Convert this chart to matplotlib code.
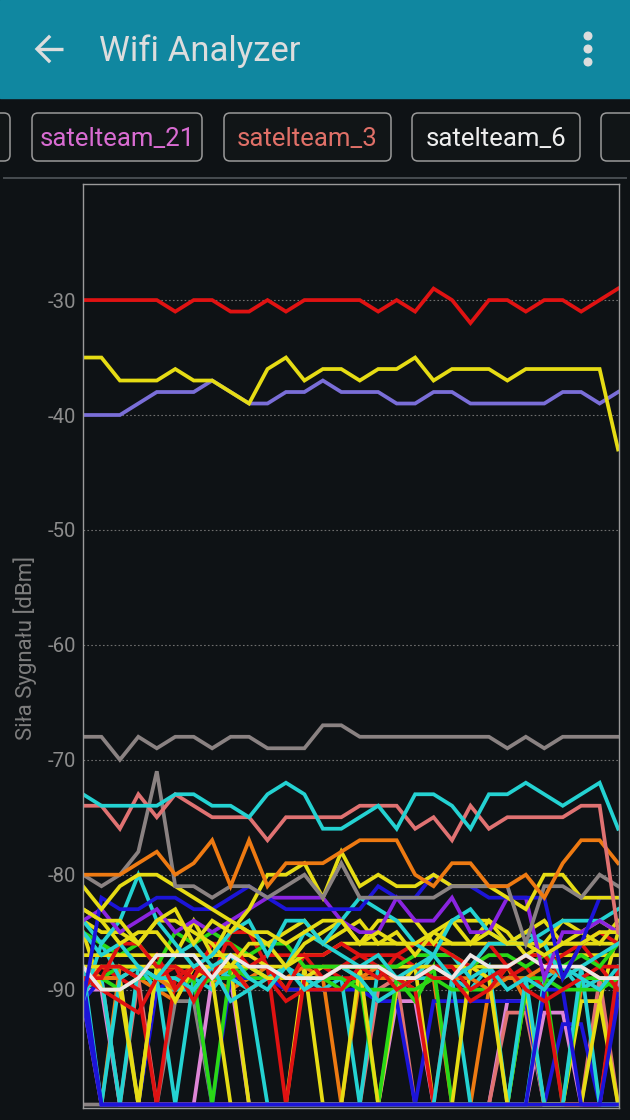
import numpy as np
import matplotlib
matplotlib.use("Agg")
import matplotlib.pyplot as plt
from matplotlib.patches import Rectangle, FancyBboxPatch, Circle

plt.rcParams['font.family'] = ['Roboto', 'DejaVu Sans']

# === DATA ===
scans = np.arange(30)
y_ticks = [-30, -40, -50, -60, -70, -80, -90]
y_label = 'Siła Sygnału [dBm]'
title = 'Wifi Analyzer'
tab_names = ['satelteam_21', 'satelteam_3', 'satelteam_6']

# strong networks (top of chart)
red_top = [-30, -30, -30, -30, -30, -31, -30, -30, -31, -31,
           -30, -31, -30, -30, -30, -30, -31, -30, -31, -29,
           -30, -32, -30, -30, -31, -30, -30, -31, -30, -29]
yellow_top = [-35, -35, -37, -37, -37, -36, -37, -37, -38, -39,
              -36, -35, -37, -36, -36, -37, -36, -36, -35, -37,
              -36, -36, -36, -37, -36, -36, -36, -36, -36, -43]
slate_top = [-40, -40, -40, -39, -38, -38, -38, -37, -38, -39,
             -39, -38, -38, -37, -38, -38, -38, -39, -39, -38,
             -38, -39, -39, -39, -39, -39, -38, -38, -39, -38]
grey_mid = [-68, -68, -70, -68, -69, -68, -68, -69, -68, -68,
            -69, -69, -69, -67, -67, -68, -68, -68, -68, -68,
            -68, -68, -68, -69, -68, -69, -68, -68, -68, -68]
cyan_mid = [-73, -74, -74, -74, -74, -73, -73, -74, -74, -75,
            -73, -72, -73, -76, -76, -75, -74, -76, -73, -73,
            -74, -76, -73, -73, -72, -73, -74, -73, -72, -76]
salmon_mid = [-74, -74, -76, -73, -75, -73, -74, -75, -75, -75,
              -77, -75, -75, -75, -75, -74, -74, -74, -76, -75,
              -77, -74, -76, -75, -75, -75, -75, -74, -74, -85]
orange_mid = [-80, -80, -80, -79, -78, -80, -79, -77, -81, -77,
              -81, -79, -79, -79, -78, -77, -77, -77, -80, -81,
              -79, -79, -81, -81, -80, -82, -79, -77, -77, -79]
grey_spike = [-80, -81, -80, -78, -71, -81, -81, -82, -81, -81,
              -82, -81, -80, -82, -79, -82, -82, -82, -82, -82,
              -81, -81, -81, -81, -86, -81, -81, -82, -80, -81]

# weak networks (crowded band)
yellow_a = [-81, -83, -81, -80, -80, -81, -82, -83, -84, -85,
            -85, -86, -85, -84, -84, -86, -85, -86, -86, -85,
            -86, -86, -85, -86, -86, -87, -86, -86, -85, -85]
yellow_b = [-83, -84, -84, -86, -84, -83, -86, -84, -85, -83,
            -80, -80, -79, -82, -78, -81, -80, -81, -81, -80,
            -81, -81, -81, -82, -83, -80, -80, -82, -82, -82]
violet_a = [-84, -83, -85, -84, -83, -85, -84, -85, -84, -83,
            -82, -82, -82, -82, -84, -85, -85, -82, -84, -84,
            -82, -85, -85, -82, -82, -89, -85, -85, -84, -85]
blue_a = [-91, -82, -83, -83, -82, -82, -83, -83, -82, -81,
          -82, -83, -83, -83, -83, -83, -81, -82, -82, -80,
          -81, -81, -82, -82, -82, -82, -89, -86, -82, -82]
white_a = [-88, -90, -90, -89, -87, -87, -87, -89, -87, -88,
           -88, -89, -89, -89, -88, -88, -88, -89, -89, -88,
           -89, -87, -88, -88, -87, -88, -88, -88, -89, -89]
cyan_b = [-84, -86, -84, -80, -84, -86, -88, -87, -85, -84,
          -87, -84, -84, -86, -84, -82, -83, -84, -86, -87,
          -84, -83, -85, -86, -86, -85, -84, -84, -84, -83]
cyan_c = [-85, -87, -86, -88, -89, -87, -86, -88, -87, -89,
          -90, -88, -85, -86, -87, -88, -87, -89, -88, -87,
          -89, -88, -86, -86, -85, -86, -89, -88, -87, -86]
cyan_d = [-91, -86, -89, -88, -89, -89, -90, -88, -91, -90,
          -89, -88, -90, -89, -88, -89, -91, -90, -89, -87,
          -87, -89, -88, -90, -89, -90, -88, -89, -90, -88]
yellow_c = [-83, -84, -86, -85, -85, -87, -84, -87, -84, -85,
            -86, -85, -84, -86, -85, -84, -86, -85, -87, -85,
            -84, -86, -84, -86, -85, -84, -86, -85, -84, -85]
yellow_d = [-84, -85, -85, -86, -84, -84, -85, -86, -88, -86,
            -86, -88, -86, -85, -84, -86, -84, -84, -84, -86,
            -84, -84, -84, -85, -87, -86, -84, -85, -86, -84]
yellow_e = [-87, -87, -87, -87, -87, -87, -87, -87, -87, -87,
            -88, -88, -87, -87, -86, -86, -86, -86, -86, -86,
            -86, -86, -86, -86, -86, -86, -86, -86, -86, -86]
yellow_f = [-88, -88, -88, -88, -88, -88, -88, -88, -88, -88,
            -89, -89, -89, -88, -88, -88, -88, -88, -88, -88,
            -88, -88, -88, -88, -87, -87, -87, -87, -87, -87]
red_a = [-89, -89, -86, -86, -88, -88, -89, -86, -86, -88,
         -87, -87, -87, -87, -86, -87, -87, -87, -86, -86,
         -87, -88, -86, -88, -87, -87, -89, -86, -85, -86]
red_b = [-90, -88, -88, -89, -87, -90, -88, -89, -85, -85,
         -88, -90, -87, -89, -88, -87, -88, -90, -89, -88,
         -88, -90, -89, -88, -87, -88, -87, -86, -88, -88]
red_c = [-89, -90, -91, -92, -89, -88, -91, -88, -88, -90,
         -89, -91, -90, -90, -90, -88, -89, -87, -88, -89,
         -89, -91, -90, -88, -90, -91, -90, -89, -88, -90]
green_a = [-85, -86, -87, -86, -88, -85, -86, -85, -86, -87,
           -86, -86, -88, -88, -88, -88, -88, -88, -87, -87,
           -87, -88, -87, -87, -88, -87, -88, -87, -88, -86]
green_b = [-89, -89, -88, -88, -89, -89, -90, -89, -89, -88,
           -89, -89, -89, -89, -89, -90, -90, -90, -90, -89,
           -90, -90, -90, -89, -89, -89, -90, -90, -90, -89]
orange_b = [-88, -89, -89, -88, -89, -90, -88, -89, -88, -90,
            -89, -89, -88, -89, -88, -89, -88, -89, -89, -88,
            -89, -89, -90, -89, -89, -88, -89, -88, -89, -89]

# networks that drop out (spikes to the floor)
orange_drop = [-89, -100, -88, -89, -90, -91, -88, -89, -90, -89,
               -88, -90, -90, -89, -100, -89, -89, -89, -90, -89,
               -100, -100, -90, -88, -91, -100, -100, -90, -89, -89]
pink_drop = [-90, -90, -100, -100, -100, -100, -100, -89, -89, -100,
             -100, -100, -100, -100, -100, -100, -100, -91, -91, -100,
             -100, -100, -100, -91, -91, -100, -100, -100, -100, -100]
salmon_drop = [-89, -89, -100, -89, -100, -100, -100, -100, -100, -100,
               -100, -100, -100, -100, -100, -100, -90, -89, -100, -100,
               -100, -100, -100, -92, -92, -100, -100, -100, -89, -100]
blue_drop = [-91, -89, -89, -100, -90, -89, -89, -100, -89, -89,
             -89, -90, -90, -90, -90, -90, -91, -91, -100, -91,
             -91, -91, -91, -91, -91, -100, -93, -93, -100, -90]
yellow_drop = [-89, -89, -89, -100, -88, -90, -89, -88, -88, -100,
               -100, -100, -88, -100, -100, -100, -100, -90, -88, -100,
               -100, -100, -100, -100, -90, -100, -100, -91, -91, -100]
cyan_drop = [-90, -89, -100, -88, -89, -100, -89, -90, -88, -88,
             -89, -88, -89, -90, -89, -100, -88, -89, -89, -89,
             -89, -100, -100, -100, -100, -89, -88, -90, -89, -89]
green_drop = [-88, -89, -90, -89, -89, -90, -89, -100, -88, -89,
              -89, -89, -89, -89, -90, -89, -100, -89, -91, -88,
              -100, -100, -100, -100, -90, -89, -100, -89, -89, -90]
red_drop = [-89, -88, -89, -90, -100, -89, -88, -89, -89, -88,
            -88, -100, -89, -88, -89, -89, -88, -89, -90, -100,
            -89, -88, -89, -89, -88, -90, -100, -100, -100, -88]
cyan_drop2 = [-88, -100, -89, -88, -90, -90, -90, -88, -89, -90,
              -100, -100, -100, -100, -100, -100, -100, -100, -100, -100,
              -89, -90, -88, -100, -89, -100, -100, -88, -100, -100]
pink_drop2 = [-91, -100, -100, -100, -100, -100, -100, -100, -100, -100,
              -100, -100, -100, -100, -100, -100, -100, -100, -100, -100,
              -100, -100, -100, -100, -100, -92, -92, -100, -100, -89]
yellow_drop2 = [-85, -90, -90, -100, -88, -91, -88, -89, -100, -100,
                -100, -100, -100, -100, -100, -88, -100, -100, -100, -100,
                -100, -88, -89, -100, -100, -100, -100, -100, -91, -85]
blue_drop2 = [-89, -100, -100, -100, -100, -100, -100, -100, -100, -100,
              -100, -100, -100, -100, -100, -100, -100, -100, -100, -100,
              -100, -100, -100, -100, -100, -90, -90, -100, -100, -91]
grey_floor = [-100, -100, -100, -100, -100, -91, -91, -100, -100, -100,
              -100, -100, -100, -100, -100, -100, -100, -100, -100, -100,
              -100, -100, -100, -100, -100, -100, -100, -100, -100, -100]
blue_floor = [-91, -100, -100, -100, -100, -100, -100, -100, -100, -100,
              -100, -100, -100, -100, -100, -100, -100, -100, -100, -100,
              -100, -100, -100, -100, -100, -100, -100, -100, -100, -100]

# === COLOURS ===
RED = '#E01212'
YELLOW = '#E6DC14'
SLATE = '#7A6ED8'
GREY = '#8A8282'
CYAN = '#24D2D2'
SALMON = '#E07272'
ORANGE = '#EE7A12'
BLUE = '#1C14D8'
VIOLET = '#8A24E0'
GREEN = '#2AD816'
PINK = '#DE86D6'
WHITE = '#EEE6E6'
BG = '#0E1215'
HEADER = '#1087A0'

series = [
    (grey_floor, GREY), (pink_drop2, PINK), (orange_drop, ORANGE),
    (pink_drop, PINK), (salmon_drop, SALMON), (blue_drop, BLUE),
    (yellow_drop, YELLOW), (cyan_drop, CYAN), (green_drop, GREEN),
    (red_drop, RED), (cyan_drop2, CYAN), (yellow_drop2, YELLOW),
    (blue_drop2, BLUE),
    (green_b, GREEN), (orange_b, ORANGE), (red_c, RED), (cyan_d, CYAN),
    (yellow_f, YELLOW), (red_b, RED), (green_a, GREEN), (yellow_e, YELLOW),
    (red_a, RED), (cyan_c, CYAN), (yellow_d, YELLOW), (yellow_c, YELLOW),
    (cyan_b, CYAN), (white_a, WHITE), (violet_a, VIOLET), (blue_a, BLUE),
    (yellow_b, YELLOW), (yellow_a, YELLOW), (grey_spike, GREY),
    (orange_mid, ORANGE), (salmon_mid, SALMON), (cyan_mid, CYAN),
    (grey_mid, GREY), (slate_top, SLATE), (yellow_top, YELLOW),
    (red_top, RED), (blue_floor, BLUE),
]

W, H = 630, 1120
fig = plt.figure(figsize=(W / 100, H / 100), dpi=100)
fig.patch.set_facecolor(BG)

# background / app chrome in pixel coordinates
ui = fig.add_axes([0, 0, 1, 1], zorder=0)
ui.set_xlim(0, W)
ui.set_ylim(H, 0)
ui.axis('off')
ui.add_patch(Rectangle((0, 0), W, 98, color=HEADER))
ui.plot([37, 63], [49, 49], color='#DDDDDD', lw=2.4, solid_capstyle='butt')
ui.plot([49, 37, 49], [37, 49, 61], color='#DDDDDD', lw=2.4,
        solid_joinstyle='miter')
ui.text(99, 51, title, fontsize=25, color='#DDDDDD', va='center', ha='left')
for cy in (36, 49, 62):
    ui.add_patch(Circle((588, cy), 3.8, color='#DDDDDD'))

tab_boxes = [(-30, 10), (32, 202), (224, 391), (412, 580), (601, 680)]
for x0, x1 in tab_boxes:
    ui.add_patch(FancyBboxPatch((x0, 113), x1 - x0, 48,
                                boxstyle='round,pad=0,rounding_size=6',
                                fc='#111517', ec='#9A9A9A', lw=1.1))
tab_colors = ['#D96CD2', '#E07068', '#EEEEEE']
for (x0, x1), name, c in zip(tab_boxes[1:4], tab_names, tab_colors):
    ui.text((x0 + x1) / 2, 139, name, fontsize=18.5, color=c,
            ha='center', va='center')
ui.plot([4, 626], [178, 178], color='#474C50', lw=1.4)
ui.text(25, 648, y_label, rotation=90, fontsize=16, color='#7E7E7E',
        ha='center', va='center')

# chart
ax = fig.add_axes([83 / W, (H - 1108) / H, (619 - 83) / W, (1108 - 184) / H],
                  zorder=1)
ax.set_facecolor(BG)
for vals, c in series:
    ax.plot(scans, vals, color=c, lw=2.7, solid_joinstyle='miter')

ax.set_xlim(0, 29.05)
ax.set_ylim(-100.3, -19.9)
ax.set_yticks(y_ticks)
ax.set_yticklabels([str(t) for t in y_ticks])
ax.set_xticks([])
ax.tick_params(axis='y', length=0, pad=5, labelsize=14.6, labelcolor='#8C8C8C')
ax.grid(axis='y', color='#6E6E6E', lw=0.8, linestyle=(0, (1.5, 2)))
ax.set_axisbelow(True)
for s in ax.spines.values():
    s.set_color('#9A9A9A')
    s.set_linewidth(1.0)

fig.savefig('out.png', dpi=100, facecolor=BG)
